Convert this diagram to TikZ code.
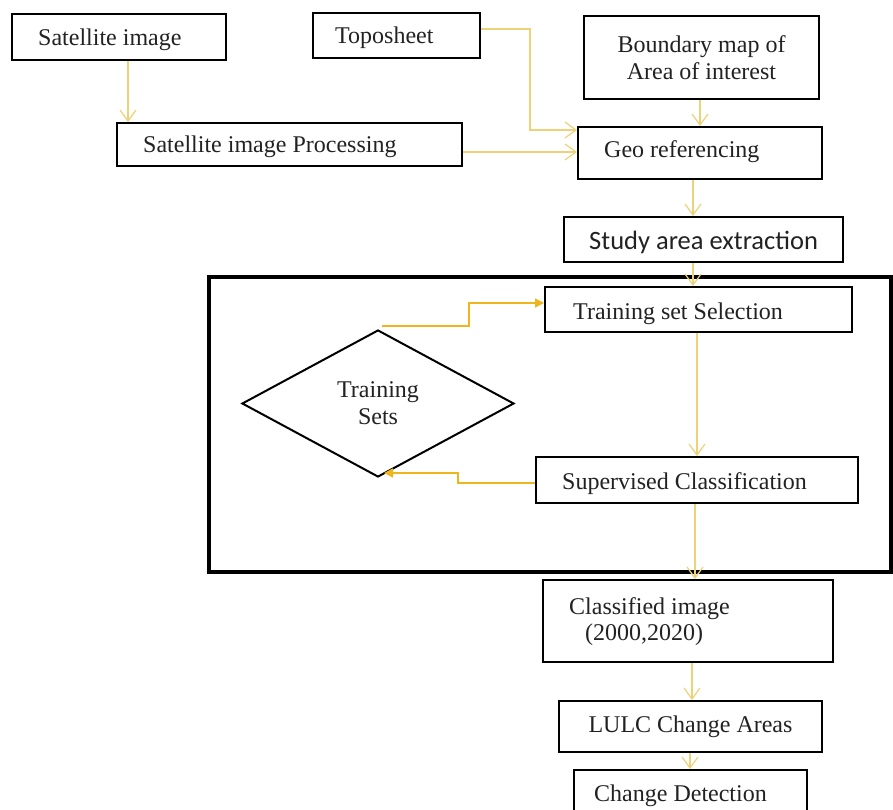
\documentclass[tikz,border=0pt]{standalone}
\usepackage{fontspec}
\setmainfont{Liberation Serif}
\newfontfamily\calib{Carlito}
\usetikzlibrary{arrows.meta,calc,shapes.geometric}
\definecolor{yel}{HTML}{EDD27A}
\definecolor{gold}{HTML}{EFB51C}
\definecolor{ink}{HTML}{222222}
\begin{document}
\begin{tikzpicture}[x=1pt,y=-1pt,
  box/.style={draw=black,line width=2pt,rectangle,inner sep=0pt,text=ink,
    font=\fontsize{24}{27}\selectfont,align=center},
  txt/.style={anchor=base west,inner sep=0pt,text=ink,font=\fontsize{24}{27}\selectfont},
  yarrow/.style={draw=yel,line width=1.2pt,-{Straight Barb[length=11pt,width=16pt]}},
  garrow/.style={draw=gold,line width=1.5pt,-{Triangle[length=9pt,width=9pt]}}]
\clip (0,0) rectangle (893,810);
\fill[white] (0,0) rectangle (893,810);

% big frame
\node[draw=black,line width=4pt,rectangle,inner sep=0pt,minimum width=682pt,minimum height=295pt] (frame) at (550,424.5) {};

% boxes
\node[box,minimum width=214pt,minimum height=46pt] (sat) at (119,37) {};
\node[box,minimum width=167pt,minimum height=45pt] (topo) at (396.5,35.5) {};
\node[box,minimum width=235pt,minimum height=83pt] (bnd) at (701.5,57.5) {Boundary map of\\Area of interest};
\node[box,minimum width=345pt,minimum height=43pt] (proc) at (289.5,144.5) {};
\node[box,minimum width=244pt,minimum height=52pt] (geo) at (700,153) {};
\node[box,minimum width=279pt,minimum height=45pt] (study) at (703.5,239.5) {};
\node[box,minimum width=307pt,minimum height=45pt] (train) at (698.5,309.5) {};
\node[draw=black,line width=2pt,diamond,inner sep=0pt,minimum width=272pt,minimum height=147pt,
  text=ink,font=\fontsize{24}{27}\selectfont,align=center] (ts) at (378,403.5) {Training\\Sets};
\node[box,minimum width=322pt,minimum height=46pt] (sup) at (697,480) {};
\node[box,minimum width=290pt,minimum height=82pt] (cls) at (688,621) {};
\node[box,minimum width=263pt,minimum height=51pt] (lulc) at (690.5,726.5) {LULC Change Areas};
\node[box,minimum width=233pt,minimum height=60pt] (chg) at (690.5,800) {};

% texts
\node[txt] (tsat) at (38,46) {Satellite image};
\node[txt] (ttopo) at (335,44) {Toposheet};
\node[txt] (tproc) at (143,153) {Satellite image Processing};
\node[txt] (tgeo) at (604,158) {Geo referencing};
\node[txt,font=\calib\fontsize{26.5}{27}\selectfont] (tstudy) at (589,249) {Study area extraction};
\node[txt] (ttrain) at (573,319) {Training set Selection};
\node[txt] (tsup) at (562,489) {Supervised Classification};
\node[txt] (tcls1) at (569,614) {Classified image};
\node[txt] (tcls2) at (585,640) {(2000,2020)};
\node[txt] (tchg) at (594,801) {Change Detection};

% yellow connectors
\coordinate (c1) at ($(sat.south)+(9,0)$);
\draw[yarrow] (c1) -- (c1 |- proc.north);
\coordinate (c2) at ($(topo.east)+(0,-6.5)$);
\draw[yarrow] (c2) -- ++(49,0) |- ($(geo.west)+(0,-23)$);
\coordinate (c3) at ($(proc.east)+(0,7.5)$);
\draw[yarrow] (c3) -- (c3 -| geo.west);
\coordinate (c4) at ($(bnd.south)+(-1.5,0)$);
\draw[yarrow] (c4) -- (c4 |- geo.north);
\coordinate (c5) at ($(geo.south)+(-7,0)$);
\draw[yarrow] (c5) -- (c5 |- study.north);
\coordinate (c6) at ($(study.south)+(-10.5,0)$);
\draw[yarrow] (c6) -- (c6 |- train.north);
\coordinate (c7) at ($(train.south)+(-1.5,0)$);
\draw[yarrow] (c7) -- (c7 |- sup.north);
\coordinate (c8) at ($(sup.south)+(-2,0)$);
\draw[yarrow] (c8) -- (c8 |- cls.north);
\coordinate (c9) at ($(cls.south)+(4,0)$);
\draw[yarrow] (c9) -- (c9 |- lulc.north);
\coordinate (c10) at ($(lulc.south)+(-0.5,0)$);
\draw[yarrow] (c10) -- (c10 |- chg.north);

% gold connectors
\draw[garrow] ($(ts.north)+(4,-3)$) -- ++(87,0) |- ($(train.west)+(0,-6.5)$);
\draw[garrow] ($(sup.west)+(0,3)$) -- ++(-77,0) |- ($(ts.south)+(6,-5)$);
\end{tikzpicture}
\end{document}
